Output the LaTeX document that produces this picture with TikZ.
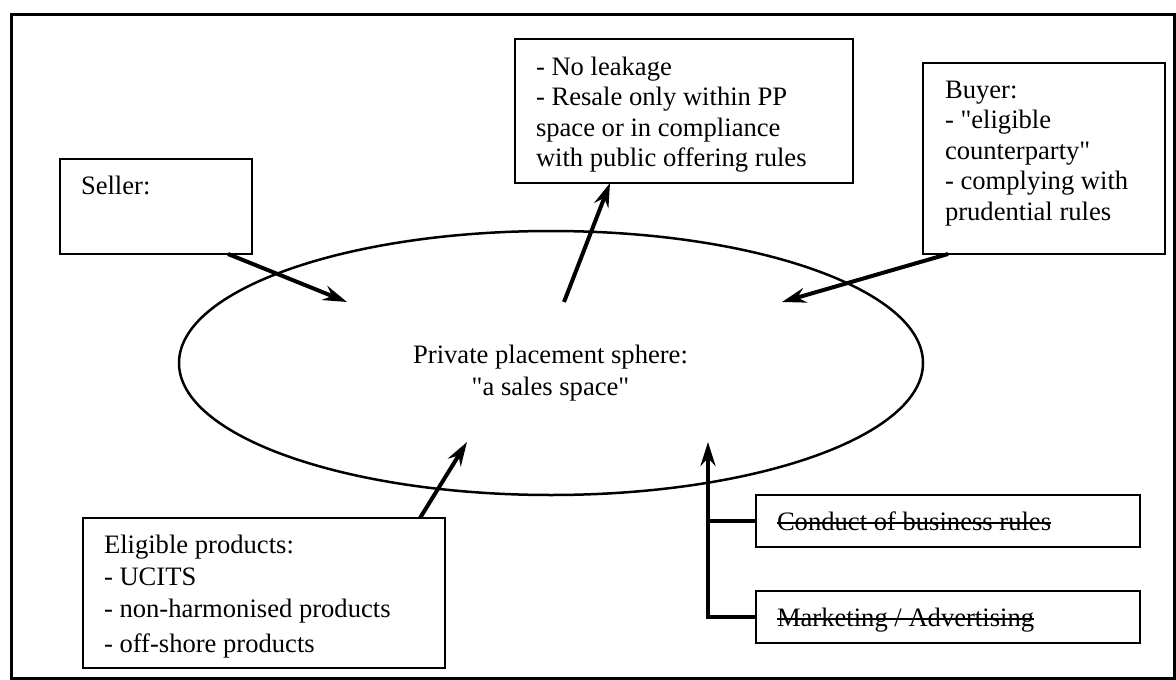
\documentclass[tikz,border=0pt]{standalone}
\usepackage{fontspec}
\setmainfont{Liberation Serif}[Ligatures=TeXOff]
\usetikzlibrary{arrows.meta,shapes.geometric,calc}
\newcommand\bigtxt{\fontsize{26.6}{30.5}\selectfont}
\newcommand\bigtxtwide{\fontsize{26.6}{32}\selectfont}
\tikzset{
  box/.style={draw, rectangle, line width=2pt, inner sep=0pt, outer sep=0pt, anchor=north west},
  txt/.style={inner sep=0pt, outer sep=0pt, font=\bigtxt, align=left, anchor=north west},
  conn/.style={line width=4pt, -{Stealth[length=24pt,width=15pt,inset=8pt]}},
  bar/.style={line width=4pt},
  frame/.style={line width=3pt},
  strike/.style={line width=1.4pt},
}
\begin{document}
\begin{tikzpicture}[x=1pt,y=-1pt]
\useasboundingbox (0,0) rectangle (1176,680);
\draw[frame] (11.5,14.5) rectangle (1174.5,678.5);

% ellipse
\node[draw, ellipse, line width=2.5pt, minimum width=744pt, minimum height=264pt, inner sep=0pt, outer sep=0pt] (sphere) at (551,363) {};
\node[font=\bigtxtwide, align=center, anchor=north, inner sep=0pt] (spheretext) at (550.5,340.6) {\strut Private placement sphere:\\"a sales space"};

% boxes
\node[box, minimum width=338pt, minimum height=144pt] (leak) at (515,39) {};
\node[txt] (leaktext) at (536,54) {\strut- No leakage\\- Resale only within PP\\space or in compliance\\with public offering rules};

\node[box, minimum width=242pt, minimum height=191pt] (buyer) at (923,63) {};
\node[txt] (buyertext) at (945,76.65) {\strut Buyer:\\- "eligible\\counterparty"\\- complying with\\prudential rules};

\node[box, minimum width=192pt, minimum height=95pt] (seller) at (60,159) {};
\node[txt, anchor=base west] (sellertext) at (81,194) {Seller:};

\node[box, minimum width=362pt, minimum height=150pt] (products) at (83,518) {};
\node[txt, font=\bigtxtwide] (productstext) at (104,530.6) {\strut Eligible products:\\- UCITS\\- non-harmonised products\\[3pt]- off-shore products};

\node[box, minimum width=384pt, minimum height=52pt] (conduct) at (756,495) {};
\node[txt, anchor=base west] (conducttext) at (777,530) {Conduct of business rules};
\draw[strike] ([yshift=7pt]conducttext.base west) -- ([yshift=7pt]conducttext.base east);

\node[box, minimum width=384pt, minimum height=52pt] (marketing) at (756,591) {};
\node[txt, anchor=base west] (marketingtext) at (777,626) {Marketing / Advertising};
\draw[strike] ([yshift=7pt]marketingtext.base west) -- ([yshift=7pt]marketingtext.base east);

% connectors
\coordinate (sellerIn) at (347,302);
\draw[conn] ($(seller.south east)+(-24,0)$) -- (sellerIn);
\coordinate (leakOut) at (564,302);
\draw[conn] (leakOut) -- ($(leak.south west)+(95,0)$);
\coordinate (buyerIn) at (782,302);
\draw[conn] ($(buyer.south west)+(25,0)$) -- (buyerIn);
\coordinate (productsIn) at (467,442);
\draw[conn] ($(products.north east)+(-25,0)$) -- (productsIn);
\coordinate (rulesIn) at (708,442);
\draw[conn] (marketing.west) -| (rulesIn);
\draw[bar] (conduct.west) -- (conduct.west -| rulesIn);
\end{tikzpicture}
\end{document}
